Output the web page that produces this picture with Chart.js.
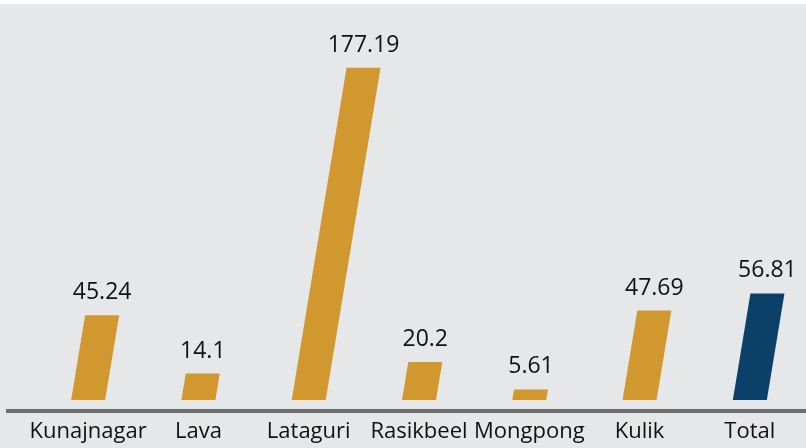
<!DOCTYPE html>
<html>
<head>
<meta charset="utf-8">
<script src="https://cdn.jsdelivr.net/npm/chart.js@4.4.1/dist/chart.umd.min.js"></script>
<style>
  html, body { margin: 0; padding: 0; background: #ffffff; }
  #wrap { position: absolute; left: 0; top: 4px; width: 806px; height: 444px; background: #E6E7E8; }
  canvas { display: block; }
</style>
</head>
<body>
<div id="wrap"><canvas id="c" width="806" height="444"></canvas></div>
<script>
const categories = ["Kunajnagar", "Lava", "Lataguri", "Rasikbeel", "Mongpong", "Kulik", "Total"];
const values = [45.24, 14.1, 177.19, 20.2, 5.61, 47.69, 56.81];
const valueLabels = ["45.24", "14.1", "177.19", "20.2", "5.61", "47.69", "56.81"];
const barColors = ["#D0982F", "#D0982F", "#D0982F", "#D0982F", "#D0982F", "#D0982F", "#0B4168"];

const SKEW = 0.165;
const FONT = "'Open Sans', sans-serif";

const slantedBars = {
  id: 'slantedBars',
  afterDatasetsDraw(chart) {
    const ctx = chart.ctx;
    const meta = chart.getDatasetMeta(0);
    const area = chart.chartArea;
    // axis line
    ctx.save();
    ctx.strokeStyle = '#6E6F71';
    ctx.lineWidth = 4;
    ctx.beginPath();
    ctx.moveTo(6, area.bottom);
    ctx.lineTo(chart.width, area.bottom);
    ctx.stroke();
    meta.data.forEach((bar, i) => {
      const p = bar.getProps(['x', 'y', 'base', 'width'], true);
      const h = p.base - p.y;
      const off = h * SKEW;
      const hw = p.width / 2;
      ctx.fillStyle = barColors[i];
      ctx.beginPath();
      ctx.moveTo(p.x - hw, p.base);
      ctx.lineTo(p.x + hw, p.base);
      ctx.lineTo(p.x + hw + off, p.y);
      ctx.lineTo(p.x - hw + off, p.y);
      ctx.closePath();
      ctx.fill();
      ctx.fillStyle = '#111111';
      ctx.font = "23px " + FONT;
      ctx.textAlign = 'center';
      ctx.textBaseline = 'alphabetic';
      ctx.fillText(valueLabels[i], p.x + off, p.y - 16);
    });
    ctx.restore();
  }
};

new Chart(document.getElementById('c'), {
  type: 'bar',
  data: {
    labels: categories,
    datasets: [{
      data: values,
      backgroundColor: 'rgba(0,0,0,0)',
      borderWidth: 0,
      barThickness: 34
    }]
  },
  options: {
    responsive: false,
    animation: false,
    layout: { padding: { left: 33, right: 1, top: 21, bottom: 0 } },
    plugins: { legend: { display: false }, tooltip: { enabled: false } },
    scales: {
      x: {
        offset: true,
        grid: { display: false, drawTicks: false },
        border: { display: false },
        ticks: { color: '#111111', font: { family: FONT, size: 22 }, padding: 8, maxRotation: 0, autoSkip: false },
        afterFit(scale) { scale.height = 37; }
      },
      y: {
        display: false,
        min: -5.87,
        max: 200
      }
    }
  },
  plugins: [slantedBars]
});
</script>
</body>
</html>
